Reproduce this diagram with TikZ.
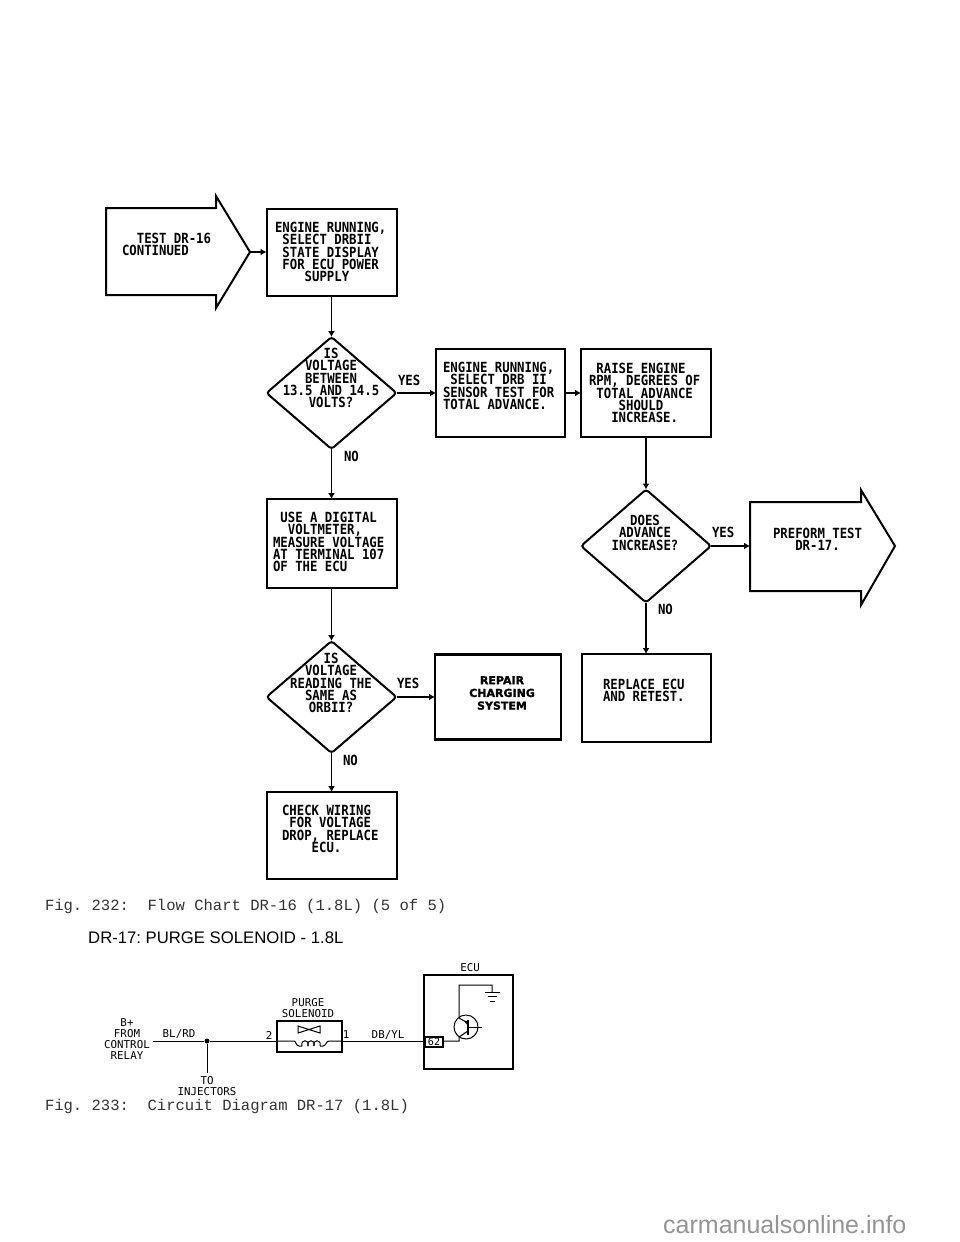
\documentclass[tikz,border=0pt]{standalone}
\usepackage{fontspec}
\usetikzlibrary{shapes.geometric,arrows.meta}
\newfontfamily\flowmono[FakeStretch=0.88]{DejaVu Sans Mono}
\newfontfamily\circmono{DejaVu Sans Mono}
\newfontfamily\capmono{Liberation Mono}
\newfontfamily\plainsans{Liberation Sans}
\newfontfamily\heavysans[BoldFeatures={FakeBold=1.5}]{DejaVu Sans}
\frenchspacing
\tikzset{
  x=1pt,y=-1pt,
  shapeline/.style={draw=black,line width=2pt,line join=miter},
  flowbox/.style={shapeline,rectangle,inner sep=0pt,outer sep=0pt},
  decide/.style={shapeline,diamond,rounded corners=3pt,inner sep=0pt,outer sep=0pt},
  flowtext/.style={inner sep=0pt,outer sep=0pt,anchor=north west,align=left,font=\flowmono\bfseries\fontsize{14}{12.4}\selectfont},
  decidetext/.style={flowtext,anchor=north,align=center},
  flowarrow/.style={draw=black,line width=1.8pt,-{Latex[length=6pt,width=7pt]}},
  wire/.style={draw=black,line width=1pt},
  circuittext/.style={inner sep=0pt,outer sep=0pt,align=center,font=\circmono\fontsize{10.8}{11}\selectfont},
  captiontext/.style={inner sep=0pt,outer sep=0pt,anchor=base west,text=black!80,font=\capmono\fontsize{15.55}{16}\selectfont},
}
\begin{document}
\begin{tikzpicture}
\useasboundingbox (0,0) rectangle (960,1242);
\fill[white] (0,0) rectangle (960,1242);

% flow chart boxes
\node[flowbox,minimum width=130pt,minimum height=87pt] (box1) at (331.5,252.5) {};
\node[flowbox,minimum width=130pt,minimum height=89pt] (box2) at (331.5,543.5) {};
\node[flowbox,minimum width=130pt,minimum height=87pt] (box3) at (331.5,835.5) {};
\node[flowbox,minimum width=129pt,minimum height=88pt] (sensor) at (500.5,393) {};
\node[flowbox,minimum width=130pt,minimum height=88pt] (raise) at (646,393) {};
\node[flowbox,line width=2.2pt,minimum width=126pt,minimum height=85pt] (repair) at (498,697) {};
\node[flowbox,minimum width=129pt,minimum height=88pt] (replace) at (646,698) {};

% decisions
\node[decide,aspect=1.16,minimum width=130pt,minimum height=112pt] (d1) at (331.5,393) {};
\node[decide,aspect=1.16,minimum width=130pt,minimum height=112pt] (d2) at (331.5,697) {};
\node[decide,aspect=1.15,minimum width=130pt,minimum height=113pt] (d3) at (646,546) {};

% block arrows
\coordinate (a1tip) at (250,252);
\coordinate (a2base) at (750,546);
\draw[shapeline] (106,208) -- (216,208) -- (216,196) -- (a1tip) -- (216,308) -- (216,295) -- (106,295) -- cycle;
\draw[shapeline] (750,502) -- (861,502) -- (861,490) -- (895,546) -- (861,605) -- (861,591) -- (750,591) -- cycle;

% connectors
\draw[flowarrow] (a1tip) -- (box1.west |- a1tip);
\draw[flowarrow] (box1.south) -- (d1.north);
\draw[flowarrow] (d1.south) -- (box2.north);
\draw[flowarrow] (box2.south) -- (d2.north);
\draw[flowarrow] (d2.south) -- (box3.north);
\draw[flowarrow] (d1.east) -- (sensor.west);
\draw[flowarrow] (sensor.east) -- (raise.west);
\draw[flowarrow] (raise.south) -- (d3.north);
\draw[flowarrow] (d2.east) -- (repair.west);
\draw[flowarrow] (d3.east) -- (a2base);
\draw[flowarrow] (d3.south) -- (replace.north);

% flow chart texts
\node[flowtext] (t0) at (122,233) {~~TEST DR-16\\CONTINUED};
\node[flowtext] (t1) at (275,222) {ENGINE RUNNING,\\~SELECT DRBII\\~STATE DISPLAY\\~FOR ECU POWER\\~~~~SUPPLY};
\node[decidetext] (t2) at (331,348) {IS\\VOLTAGE\\BETWEEN\\13.5 AND 14.5\\VOLTS?};
\node[flowtext] (t3) at (443,362) {ENGINE RUNNING,\\~SELECT DRB II\\SENSOR TEST FOR\\TOTAL ADVANCE.};
\node[flowtext] (t4) at (589,363) {~RAISE ENGINE\\RPM, DEGREES OF\\~TOTAL ADVANCE\\~~~~SHOULD\\~~~INCREASE.};
\node[flowtext] (t5) at (273,512) {~USE A DIGITAL\\~~VOLTMETER,\\MEASURE VOLTAGE\\AT TERMINAL 107\\OF THE ECU};
\node[decidetext] (t6) at (331,653) {IS\\VOLTAGE\\READING THE\\SAME AS\\ORBII?};
\node[flowtext] (t7) at (282,805) {CHECK WIRING\\~FOR VOLTAGE\\DROP, REPLACE\\~~~~ECU.};
\node[decidetext] (t8) at (645,515) {DOES\\ADVANCE\\INCREASE?};
\node[flowtext] (t9) at (773,528) {PREFORM TEST\\~~~DR-17.};
\node[flowtext] (t10) at (603,679) {REPLACE ECU\\AND RETEST.};
\node[inner sep=0pt,anchor=north,align=center,font=\heavysans\bfseries\fontsize{11}{12.7}\selectfont] (t11) at (502,676) {REPAIR\\CHARGING\\SYSTEM};
\node[flowtext] (y1) at (398,375) {YES};
\node[flowtext] (y2) at (397,678) {YES};
\node[flowtext] (y3) at (712,527) {YES};
\node[flowtext] (n1) at (344,451) {NO};
\node[flowtext] (n2) at (343,755) {NO};
\node[flowtext] (n3) at (658,604) {NO};

% captions and title
\node[captiontext] (c1) at (45,910) {Fig. 232:~~Flow Chart DR-16 (1.8L) (5 of 5)};
\node[captiontext] (c2) at (45,1110) {Fig. 233:~~Circuit Diagram DR-17 (1.8L)};
\node[inner sep=0pt,anchor=base west,font=\plainsans\fontsize{16.7}{18}\selectfont] (title) at (88,943) {DR-17: PURGE SOLENOID - 1.8L};
\node[inner sep=0pt,anchor=base west,text=black!42,font=\plainsans\fontsize{25}{27}\selectfont] (mark) at (663,1233) {carmanualsonline.info};

% circuit
\node[flowbox,minimum width=89pt,minimum height=94pt] (ecu) at (468.5,1022) {};
\node[flowbox,line width=1.4pt,minimum width=65pt,minimum height=31pt] (sol) at (309.5,1036.5) {};
\node[flowbox,line width=1.2pt,minimum width=18pt,minimum height=10pt,font=\circmono\fontsize{10}{10}\selectfont] (pin) at (434,1042) {62};
\coordinate (wstart) at (153,1041);
\coordinate (injend) at (207,1073);
\coordinate (solL) at (277,1041);
\coordinate (solR) at (342,1041);
\node[circle,fill=black,inner sep=0pt,minimum size=5pt] (junc) at (207,1041) {};
\draw[wire] (wstart) -- (junc) -- (solL);
\draw[wire] (junc) -- (injend);
\draw[wire] (solR) -- (pin.west |- solR);
\draw[wire] (solL) -- (294,1041) .. controls (296,1041) and (296,1046) .. (299,1046) -- (302,1046);
\foreach \cx in {305,311,317}{\draw[wire] (\cx-3,1046) .. controls (\cx-5,1039) and (\cx+5,1039) .. (\cx+3,1046);}
\draw[wire] (320,1046) -- (323,1046) .. controls (326,1046) and (326,1041) .. (329,1041) -- (solR);
\draw[line width=1pt] (309,1029.5) -- (298,1026) -- (298,1033) -- cycle;
\draw[line width=1pt] (309,1029.5) -- (320,1026) -- (320,1033) -- cycle;
% transistor and ground
\node[circle,draw=black,line width=1pt,inner sep=0pt,minimum size=24pt] (tr) at (466,1027) {};
\coordinate (collector) at (459,1018);
\coordinate (emitter) at (459,1037);
\coordinate (gnd) at (492,992);
\draw[wire] (pin.east |- 0,1041) -- (459,1041) -- (emitter) -- (468,1031);
\draw[line width=1.6pt] (468,1020) -- (468,1035);
\draw[wire] (468,1027) -- (482,1027);
\draw[wire,{Latex[length=4pt,width=4pt]}-] (464,1021) -- (468,1023);
\draw[wire] (468,1023) -- (collector) -- (459,985) -- (492,985) -- (gnd);
\draw[wire] (484.5,992) -- (499.5,992);
\draw[wire] (487.5,996.5) -- (496.5,996.5);
\draw[wire] (489.5,1001) -- (494.5,1001);
% circuit texts
\node[circuittext] (ecul) at (470,968) {ECU};
\node[circuittext] (bp) at (127,1039.5) {B+\\FROM\\CONTROL\\RELAY};
\node[circuittext] (blrd) at (179,1034) {BL/RD};
\node[circuittext] (p2) at (269,1035) {2};
\node[circuittext] (p1) at (346,1035) {1};
\node[circuittext] (dbyl) at (388,1035) {DB/YL};
\node[circuittext] (psl) at (308,1008.5) {PURGE\\SOLENOID};
\node[circuittext] (inj) at (207,1086.5) {TO\\INJECTORS};
\end{tikzpicture}
\end{document}
